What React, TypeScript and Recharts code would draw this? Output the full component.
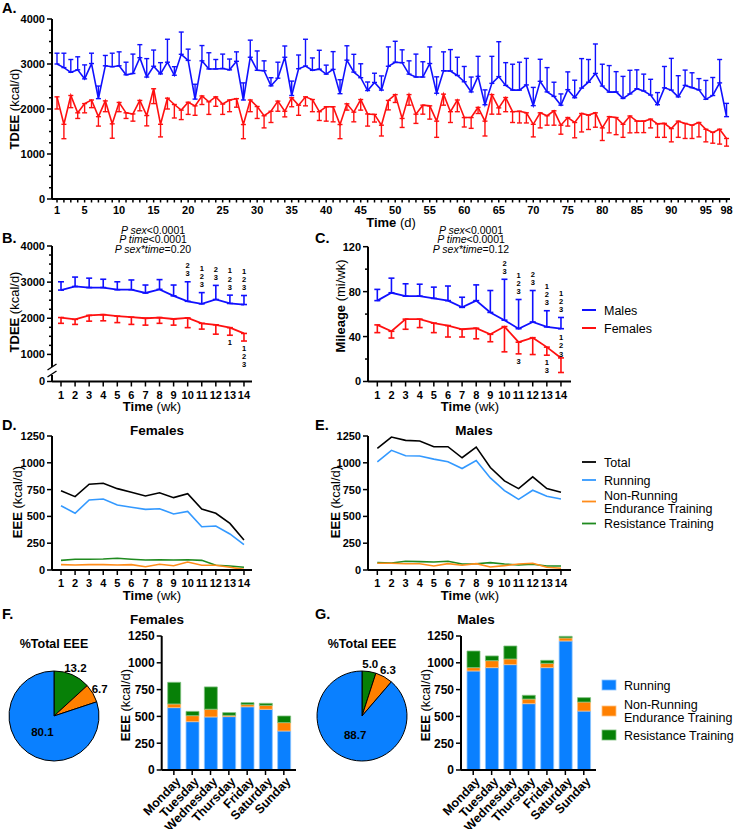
import React from 'react';
import { LineChart, Line, XAxis, YAxis, ErrorBar, LabelList, BarChart, Bar, PieChart, Pie, Cell } from 'recharts';

const FONT = '"Liberation Sans", Arial, Helvetica, sans-serif';
const W = 739;
const H = 829;

const BLUE = '#1010ff';
const RED = '#ff1010';
const RUN = '#3399ff';
const NONRUN = '#ff8c1a';
const RESIST = '#1f8a1f';
const BAR_BLUE = '#0a80ff';
const BAR_ORANGE = '#ff8000';
const BAR_GREEN = '#078007';

// ---- A: daily TDEE ----
const days = Array.from({ length: 98 }, (_, i) => i + 1);
const dayLabels = [1, 5, 10, 15, 20, 25, 30, 35, 40, 45, 50, 55, 60, 65, 70, 75, 80, 85, 90, 95, 98];
const tdeeMalesDaily = [
  3000, 2920, 2815, 2870, 2670, 3010, 2230, 2960, 2940, 2960,
  2760, 2790, 3140, 2710, 2950, 2780, 3040, 2750, 3215, 3080,
  2220, 3070, 2890, 2890, 2900, 2870, 3060, 2200, 3150, 2860,
  2850, 2515, 2685, 3150, 2300, 2895, 2955, 2860, 2885, 2775,
  2880, 2340, 3085, 2820, 2695, 2410, 2590, 2420, 2950, 3040,
  3030, 2775, 2710, 2710, 3010, 2350, 2850, 2845, 2745, 2605,
  2380, 2725, 2095, 2570, 2720, 2525, 2420, 2420, 2535, 2075,
  2615, 2380, 2280, 2085, 2430, 2250, 2465, 2595, 2790, 2510,
  2375, 2380, 2235, 2335, 2450, 2400, 2310, 2095, 2470, 2420,
  2270, 2525, 2475, 2425, 2215, 2300, 2580, 1830,
];
const tdeeMalesDailySd = [
  240, 320, 285, 290, 310, 230, 280, 230, 300, 310,
  280, 430, 290, 410, 360, 250, 510, 190, 495, 250,
  330, 340, 360, 210, 320, 240, 210, 380, 380, 430,
  220, 180, 355, 250, 320, 305, 595, 275, 420, 200,
  395, 310, 320, 395, 310, 190, 205, 315, 430, 465,
  285, 295, 510, 340, 370, 365, 420, 475, 405, 340,
  330, 445, 330, 600, 775, 505, 575, 620, 590, 405,
  490, 540, 315, 250, 395, 390, 655, 505, 655, 485,
  590, 450, 490, 525, 420, 375, 350, 270, 475, 705,
  470, 340, 330, 250, 420, 400, 520, 295,
];
const tdeeFemalesDaily = [
  2270, 1660, 2300, 1915, 2120, 2200, 1830, 2180, 1670, 2145,
  1915, 1890, 2190, 1855, 2450, 1660, 2240, 2100, 1975, 2150,
  2070, 2290, 2160, 2270, 2110, 2200, 2230, 1655, 2200, 2055,
  1850, 1950, 2175, 1950, 2250, 2085, 2270, 2210, 1940, 2050,
  2050, 1655, 2115, 1930, 2210, 1890, 1880, 1640, 2190, 2320,
  1790, 2320, 1885, 2085, 2070, 1730, 2330, 1940, 2200, 1810,
  1810, 2035, 1730, 2320, 2025, 2255, 1940, 1950, 1915, 1660,
  1915, 1850, 1960, 1640, 1810, 1700, 1900, 1865, 1915, 1580,
  1830, 1810, 1660, 1845, 1730, 1730, 1775, 1670, 1680, 1565,
  1730, 1680, 1640, 1700, 1550, 1480, 1550, 1345,
];
const tdeeFemalesDailySd = [
  270, 320, 270, 125, 205, 170, 210, 240, 320, 205,
  125, 160, 230, 230, 330, 280, 240, 300, 210, 270,
  210, 190, 280, 210, 230, 260, 190, 315, 260, 265,
  270, 250, 225, 125, 200, 225, 200, 270, 195, 320,
  335, 315, 140, 215, 235, 270, 170, 240, 210, 175,
  200, 235, 205, 200, 295, 360, 245, 240, 260, 210,
  240, 135, 330, 435, 140, 315, 240, 260, 225, 280,
  335, 210, 320, 200, 190, 340, 410, 320, 320, 280,
  360, 380, 290, 375, 255, 255, 195, 300, 310, 295,
  360, 335, 295, 320, 280, 240, 330, 170,
];
const tdeeDailyTicks = [0, 250, 500, 750, 1000, 1250, 1500, 1750, 2000, 2250, 2500, 2750, 3000, 3250, 3500, 3750, 4000];

// ---- B / C: weekly ----
const weeks = [1, 2, 3, 4, 5, 6, 7, 8, 9, 10, 11, 12, 13, 14];
const tdeeMalesWk = [2780, 2880, 2850, 2850, 2790, 2790, 2700, 2800, 2620, 2470, 2400, 2520, 2410, 2380];
const tdeeMalesWkSd = [230, 260, 260, 230, 220, 270, 220, 270, 300, 540, 310, 390, 230, 250];
const tdeeFemalesWk = [2020, 1970, 2080, 2100, 2060, 2030, 2000, 2020, 1980, 2010, 1860, 1820, 1740, 1580];
const tdeeFemalesWkSd = [160, 140, 160, 170, 180, 200, 190, 160, 170, 270, 160, 260, 210, 210];
const tdeeMalesSig = ['', '', '', '', '', '', '', '', '', '23', '123', '23', '123', '123'];
const tdeeFemalesSig = ['', '', '', '', '', '', '', '', '', '', '', '', '1', '123'];
const tdeeWkTicks = [250, 1000, 1250, 1500, 1750, 2000, 2250, 2500, 2750, 3000, 3250, 3500, 3750, 4000];

const mileMales = [72, 79, 76, 76, 74, 72, 66, 72, 61.5, 54.6, 47, 53, 48.6, 47];
const mileMalesSd = [10, 13, 11, 10.6, 10, 13, 9, 14, 19.5, 36.4, 26, 28, 14.4, 10];
const mileFemales = [50.4, 44.7, 55.5, 55.5, 52, 49.8, 46.5, 47.4, 42, 48.9, 35, 39, 30.6, 21];
const mileFemalesSd = [6.9, 6, 9, 7.5, 8.5, 10.2, 6.9, 9.4, 6.6, 22.5, 10.4, 15, 7.2, 13];
const mileMalesSig = ['', '', '', '', '', '', '', '', '', '23', '123', '23', '123', '123'];
const mileFemalesSig = ['', '', '', '', '', '', '', '', '', '', '3', '', '13', ''];
const mileFemalesSigAbove = ['', '', '', '', '', '', '', '', '', '', '', '', '', '123'];
const mileTicks = [0, 20, 40, 60, 80, 100, 120];

// ---- D / E: weekly EEE ----
const eeeTicks = [0, 250, 500, 750, 1000, 1250];
const femTotal = [740, 684, 800, 809, 759, 725, 690, 721, 675, 712, 569, 529, 435, 280];
const femRunning = [600, 529, 653, 662, 606, 585, 566, 572, 522, 547, 404, 410, 336, 236];
const femNonRunning = [50, 47, 50, 50, 47, 50, 31, 53, 40, 75, 44, 44, 25, 6];
const femResistance = [90, 100, 100, 103, 109, 100, 93, 96, 93, 96, 90, 44, 37, 25];
const malTotal = [1134, 1240, 1209, 1203, 1150, 1150, 1047, 1147, 956, 831, 759, 869, 759, 725];
const malRunning = [1009, 1116, 1066, 1063, 1034, 1009, 947, 1022, 859, 741, 659, 744, 688, 663];
const malNonRunning = [63, 63, 59, 59, 37, 59, 44, 59, 28, 41, 56, 63, 25, 16];
const malResistance = [69, 66, 81, 78, 75, 81, 56, 59, 69, 56, 47, 53, 37, 37];

// ---- F / G: day of week ----
const weekdays = ['Monday', 'Tuesday', 'Wednesday', 'Thursday', 'Friday', 'Saturday', 'Sunday'];
const femRunDay = [582, 451, 495, 498, 590, 566, 364];
const femNonRunDay = [34, 56, 72, 12, 20, 37, 78];
const femResistDay = [202, 40, 208, 25, 18, 19, 62];
const malRunDay = [924, 955, 983, 619, 955, 1204, 550];
const malNonRunDay = [31, 65, 53, 43, 40, 28, 84];
const malResistDay = [155, 44, 121, 35, 28, 15, 41];

const pieNames = ['Resistance Training', 'Non-Running Endurance Training', 'Running'];
const pieColors = [BAR_GREEN, BAR_ORANGE, BAR_BLUE];
const femPie = [13.2, 6.7, 80.1];
const malPie = [5.0, 6.3, 88.7];

// ---- tables ----
const dailyData = days.map((d, i) => ({
  day: d,
  males: tdeeMalesDaily[i],
  malesErr: [0, tdeeMalesDailySd[i]],
  females: tdeeFemalesDaily[i],
  femalesErr: [tdeeFemalesDailySd[i], 0],
}));

const weeklyRows = (m: number[], msd: number[], f: number[], fsd: number[], ms: string[], fs: string[], fa?: string[]) =>
  weeks.map((w, i) => ({
    week: w,
    males: m[i],
    malesErr: [0, msd[i]],
    malesTop: m[i] + msd[i],
    malesSig: ms[i],
    females: f[i],
    femalesErr: [fsd[i], 0],
    femalesBottom: f[i] - fsd[i],
    femalesSig: fs[i],
    femalesAbove: fa ? fa[i] : '',
  }));

const tdeeWeekly = weeklyRows(tdeeMalesWk, tdeeMalesWkSd, tdeeFemalesWk, tdeeFemalesWkSd, tdeeMalesSig, tdeeFemalesSig);
const mileWeekly = weeklyRows(mileMales, mileMalesSd, mileFemales, mileFemalesSd, mileMalesSig, mileFemalesSig, mileFemalesSigAbove);

const eeeRows = (t: number[], r: number[], n: number[], s: number[]) =>
  weeks.map((w, i) => ({ week: w, total: t[i], running: r[i], nonRunning: n[i], resistance: s[i] }));
const femEee = eeeRows(femTotal, femRunning, femNonRunning, femResistance);
const malEee = eeeRows(malTotal, malRunning, malNonRunning, malResistance);

const dayRows = (r: number[], n: number[], s: number[]) =>
  weekdays.map((d, i) => ({ day: d, running: r[i], nonRunning: n[i], resistance: s[i] }));
const femDays = dayRows(femRunDay, femNonRunDay, femResistDay);
const malDays = dayRows(malRunDay, malNonRunDay, malResistDay);

const pieRows = (v: number[]) => pieNames.map((name, i) => ({ name, value: v[i] }));

// ---- helpers ----
const axisLine = { stroke: '#000', strokeWidth: 2 };

const yTick = (fmt: (v: number) => string, isMajor: (v: number) => boolean, fontSize = 11) => (p: any) => {
  const v = p.payload.value;
  const len = isMajor(v) ? 5 : 3;
  const lbl = fmt(v);
  return (
    <g>
      <line x1={p.x - len} y1={p.y} x2={p.x} y2={p.y} stroke="#000" strokeWidth={1.5} />
      {lbl !== '' && (
        <text x={p.x - 7} y={p.y} dy="0.36em" textAnchor="end" fontSize={fontSize} fontWeight="bold" fontFamily={FONT} fill="#000">
          {lbl}
        </text>
      )}
    </g>
  );
};

const xTick = (fmt: (v: number) => string, len: number, base: number) => (p: any) => {
  const lbl = fmt(p.payload.value);
  return (
    <g>
      <line x1={p.x} y1={p.y} x2={p.x} y2={p.y + len} stroke="#000" strokeWidth={1.5} />
      {lbl !== '' && (
        <text x={p.x} y={p.y + base} textAnchor="middle" fontSize={11} fontWeight="bold" fontFamily={FONT} fill="#000">
          {lbl}
        </text>
      )}
    </g>
  );
};

const dayTick = (p: any) => {
  const x = p.x + 3;
  const y = p.y + 8;
  return (
    <g>
      <line x1={p.x} y1={p.y} x2={p.x} y2={p.y + 5} stroke="#000" strokeWidth={1.5} />
      <text x={x} y={y} dy="0.5em" textAnchor="end" transform={`rotate(-46, ${x}, ${y})`} fontSize={12.5} fontWeight="bold" fontFamily={FONT} fill="#000">
        {p.payload.value}
      </text>
    </g>
  );
};

const sigText = (dir: 'up' | 'down', gap: number) => (p: any) => {
  const val = p.value;
  if (!val) return null;
  const x = p.x ?? p.viewBox?.x;
  const y = p.y ?? p.viewBox?.y;
  const chars = String(val).split('');
  return (
    <g>
      {chars.map((c, i) => {
        const yy = dir === 'up' ? y - gap - (chars.length - 1 - i) * 8.3 : y + gap + i * 8.3;
        return (
          <text key={i} x={x} y={yy} dy="0.36em" textAnchor="middle" fontSize={7.5} fontWeight="bold" fontFamily={FONT} fill="#000">
            {c}
          </text>
        );
      })}
    </g>
  );
};

const pieLabel = (p: any) => {
  const RAD = Math.PI / 180;
  const inside = p.index === 2;
  const r = inside ? p.outerRadius * 0.44 : p.outerRadius + 8;
  const x = p.cx + r * Math.cos(-p.midAngle * RAD);
  const y = p.cy + r * Math.sin(-p.midAngle * RAD);
  return (
    <text x={x} y={y} dy="0.36em" textAnchor="middle" fontSize={11.5} fontWeight="bold" fontFamily={FONT} fill="#000">
      {Number(p.value).toFixed(1)}
    </text>
  );
};

const Layer = ({ children }: { children: React.ReactNode }) => (
  <div style={{ position: 'absolute', left: 0, top: 0, width: W, height: H }}>{children}</div>
);

// axes get 1px of room so that Recharts draws them; the plot edge stays at left / bottom
const plotMargin = (left: number, top: number, right: number, bottom: number) => ({
  left: left - 1,
  top,
  right: W - right,
  bottom: H - bottom - 1,
});

function WeeklyPanel({ data, margin, yDomain, yTicks, yFmt, yMajor, xDomain, above }: any) {
  return (
    <LineChart width={W} height={H} data={data} margin={margin}>
      <XAxis dataKey="week" type="number" domain={xDomain} ticks={weeks} interval={0} tickSize={0} tickMargin={0} tickLine={false} axisLine={axisLine} height={1} tick={xTick((v) => String(v), 5, 17)} />
      <YAxis type="number" domain={yDomain} ticks={yTicks} interval={0} tickSize={0} tickMargin={0} tickLine={false} axisLine={axisLine} width={1} tick={yTick(yFmt, yMajor)} />
      <Line dataKey="males" stroke={BLUE} strokeWidth={1.8} dot={false} isAnimationActive={false}>
        <ErrorBar dataKey="malesErr" direction="y" width={3} stroke={BLUE} strokeWidth={1.6} isAnimationActive={false} />
      </Line>
      <Line dataKey="females" stroke={RED} strokeWidth={1.8} dot={false} isAnimationActive={false}>
        <ErrorBar dataKey="femalesErr" direction="y" width={3} stroke={RED} strokeWidth={1.6} isAnimationActive={false} />
      </Line>
      <Line dataKey="malesTop" stroke="none" dot={false} activeDot={false} isAnimationActive={false}>
        <LabelList dataKey="malesSig" content={sigText('up', 8)} />
      </Line>
      <Line dataKey="femalesBottom" stroke="none" dot={false} activeDot={false} isAnimationActive={false}>
        <LabelList dataKey="femalesSig" content={sigText('down', 7)} />
      </Line>
      {above && (
        <Line dataKey="females" stroke="none" dot={false} activeDot={false} isAnimationActive={false}>
          <LabelList dataKey="femalesAbove" content={sigText('up', 4)} />
        </Line>
      )}
    </LineChart>
  );
}

function EeePanel({ data, margin, xDomain }: any) {
  return (
    <LineChart width={W} height={H} data={data} margin={margin}>
      <XAxis dataKey="week" type="number" domain={xDomain} ticks={weeks} interval={0} tickSize={0} tickMargin={0} tickLine={false} axisLine={axisLine} height={1} tick={xTick((v) => String(v), 5, 17)} />
      <YAxis type="number" domain={[0, 1250]} ticks={eeeTicks} interval={0} tickSize={0} tickMargin={0} tickLine={false} axisLine={axisLine} width={1} tick={yTick((v) => String(v), () => true)} />
      <Line dataKey="total" stroke="#000" strokeWidth={1.6} dot={false} isAnimationActive={false} />
      <Line dataKey="running" stroke={RUN} strokeWidth={1.6} dot={false} isAnimationActive={false} />
      <Line dataKey="resistance" stroke={RESIST} strokeWidth={1.6} dot={false} isAnimationActive={false} />
      <Line dataKey="nonRunning" stroke={NONRUN} strokeWidth={1.6} dot={false} isAnimationActive={false} />
    </LineChart>
  );
}

function DayBars({ data, margin }: any) {
  return (
    <BarChart width={W} height={H} data={data} margin={margin} barSize={13}>
      <XAxis dataKey="day" type="category" padding={{ left: 3, right: 3 }} interval={0} tickSize={0} tickMargin={0} tickLine={false} axisLine={axisLine} height={1} tick={dayTick} />
      <YAxis type="number" domain={[0, 1250]} ticks={eeeTicks} interval={0} tickSize={0} tickMargin={0} tickLine={false} axisLine={axisLine} width={1} tick={yTick((v) => String(v), () => true, 12)} />
      <Bar dataKey="running" stackId="s" fill={BAR_BLUE} stroke="#8cc4ff" strokeWidth={0.8} isAnimationActive={false} />
      <Bar dataKey="nonRunning" stackId="s" fill={BAR_ORANGE} stroke="#ffc080" strokeWidth={0.8} isAnimationActive={false} />
      <Bar dataKey="resistance" stackId="s" fill={BAR_GREEN} stroke="#80c080" strokeWidth={0.8} isAnimationActive={false} />
    </BarChart>
  );
}

function PiePanel({ values, cx }: { values: number[]; cx: number }) {
  return (
    <PieChart width={W} height={H} margin={{ top: 0, left: 0, right: 0, bottom: 0 }}>
      <Pie data={pieRows(values)} dataKey="value" nameKey="name" cx={cx} cy={716} outerRadius={45} startAngle={90} endAngle={-270} stroke="#000" strokeWidth={1} label={pieLabel} labelLine={false} isAnimationActive={false}>
        {values.map((_, i) => (
          <Cell key={i} fill={pieColors[i]} />
        ))}
      </Pie>
    </PieChart>
  );
}

const T = (props: any) => <text fontFamily={FONT} fill="#000" {...props} />;

function Title({ x, y, bold, normal, rotate, size = 13 }: any) {
  return (
    <T x={x} y={y} textAnchor="middle" fontSize={size} transform={rotate ? `rotate(-90, ${x}, ${y})` : undefined}>
      <tspan fontWeight="bold">{bold}</tspan>
      {normal && <tspan> {normal}</tspan>}
    </T>
  );
}

function Stats({ cx, last }: { cx: number; last: string }) {
  const rows: [string, string][] = [
    ['P sex', '<0.0001'],
    ['P time', '<0.0001'],
    ['P sex*time', last],
  ];
  return (
    <g>
      {rows.map(([a, b], i) => (
        <T key={i} x={cx} y={233.5 + i * 9.9} textAnchor="middle" fontSize={10.5}>
          <tspan fontStyle="italic">{a}</tspan>
          <tspan>{b}</tspan>
        </T>
      ))}
    </g>
  );
}

export default function App() {
  return (
    <div style={{ position: 'absolute', left: 0, top: 0, width: W, height: H, background: '#fff', overflow: 'hidden' }}>
      <Layer>
        <LineChart width={W} height={H} data={dailyData} margin={plotMargin(52, 19, 730, 199)}>
          <XAxis dataKey="day" type="number" domain={[0.275, 98.5]} ticks={days} interval={0} tickSize={0} tickMargin={0} tickLine={false} axisLine={axisLine} height={1} tick={xTick((v) => (dayLabels.includes(v) ? String(v) : ''), 3.5, 14.5)} />
          <YAxis type="number" domain={[0, 4000]} ticks={tdeeDailyTicks} interval={0} tickSize={0} tickMargin={0} tickLine={false} axisLine={axisLine} width={1} tick={yTick((v) => (v % 1000 === 0 ? String(v) : ''), (v) => v % 1000 === 0)} />
          <Line dataKey="males" stroke={BLUE} strokeWidth={1.6} dot={false} isAnimationActive={false}>
            <ErrorBar dataKey="malesErr" direction="y" width={2.5} stroke={BLUE} strokeWidth={1.4} isAnimationActive={false} />
          </Line>
          <Line dataKey="females" stroke={RED} strokeWidth={1.6} dot={false} isAnimationActive={false}>
            <ErrorBar dataKey="femalesErr" direction="y" width={2.5} stroke={RED} strokeWidth={1.4} isAnimationActive={false} />
          </Line>
        </LineChart>
      </Layer>
      <Layer>
        <WeeklyPanel
          data={tdeeWeekly}
          margin={plotMargin(52, 246, 252, 381.5)}
          yDomain={[250, 4000]}
          yTicks={tdeeWkTicks}
          yFmt={(v: number) => (v === 250 ? '0' : v % 1000 === 0 ? String(v) : '')}
          yMajor={(v: number) => v === 250 || v % 1000 === 0}
          xDomain={[0.36, 14.57]}
        />
      </Layer>
      <Layer>
        <WeeklyPanel
          data={mileWeekly}
          margin={plotMargin(368, 246.7, 571, 381.5)}
          yDomain={[0, 120]}
          yTicks={mileTicks}
          yFmt={(v: number) => (v % 40 === 0 ? String(v) : '')}
          yMajor={(v: number) => v % 40 === 0}
          xDomain={[0.34, 14.71]}
          above
        />
      </Layer>
      <Layer>
        <EeePanel data={femEee} margin={plotMargin(52, 436, 252, 570)} xDomain={[0.36, 14.57]} />
      </Layer>
      <Layer>
        <EeePanel data={malEee} margin={plotMargin(368, 436, 571, 570)} xDomain={[0.34, 14.71]} />
      </Layer>
      <Layer>
        <DayBars data={femDays} margin={plotMargin(161.7, 636, 296, 770)} />
      </Layer>
      <Layer>
        <DayBars data={malDays} margin={plotMargin(461, 636, 596, 770)} />
      </Layer>
      <Layer>
        <PiePanel values={femPie} cx={54} />
      </Layer>
      <Layer>
        <PiePanel values={malPie} cx={362} />
      </Layer>

      <svg width={W} height={H} style={{ position: 'absolute', left: 0, top: 0 }}>
        {/* panel letters */}
        {[
          ['A.', 2, 12.5],
          ['B.', 2, 243],
          ['C.', 315, 243],
          ['D.', 2, 430],
          ['E.', 315, 430],
          ['F.', 2, 619],
          ['G.', 315, 619],
        ].map(([s, x, y]) => (
          <T key={s as string} x={x} y={y} fontSize={14.5} fontWeight="bold">
            {s}
          </T>
        ))}

        {/* A */}
        <Title x={18.5} y={109} bold="TDEE" normal="(kcal/d)" rotate />
        <Title x={391} y={227} bold="Time" normal="(d)" />

        {/* B */}
        <Title x={18.5} y={312} bold="TDEE" normal="(kcal/d)" rotate />
        <Title x={152} y={411} bold="Time" normal="(wk)" />
        <Stats cx={153} last="=0.20" />
        <rect x={48} y={367} width={8} height={8} fill="#fff" />
        <line x1={47.5} y1={370} x2={56.5} y2={364} stroke="#000" strokeWidth={1.3} />
        <line x1={47.5} y1={377} x2={56.5} y2={371} stroke="#000" strokeWidth={1.3} />

        {/* C */}
        <Title x={345} y={306} bold="Mileage" normal="(mi/wk)" rotate />
        <Title x={470} y={411} bold="Time" normal="(wk)" />
        <Stats cx={471} last="=0.12" />
        <line x1={582} y1={310} x2={596} y2={310} stroke={BLUE} strokeWidth={2} />
        <T x={604} y={310} dy="0.36em" fontSize={12.5}>Males</T>
        <line x1={582} y1={328} x2={596} y2={328} stroke={RED} strokeWidth={2} />
        <T x={604} y={328} dy="0.36em" fontSize={12.5}>Females</T>

        {/* D / E */}
        <Title x={21.5} y={502} bold="EEE" normal="(kcal/d)" rotate />
        <Title x={152} y={600} bold="Time" normal="(wk)" />
        <T x={157} y={435} textAnchor="middle" fontSize={13.5} fontWeight="bold">Females</T>
        <Title x={339.5} y={502} bold="EEE" normal="(kcal/d)" rotate />
        <Title x={470} y={600} bold="Time" normal="(wk)" />
        <T x={474} y={435} textAnchor="middle" fontSize={13.5} fontWeight="bold">Males</T>
        <line x1={582} y1={462} x2={596} y2={462} stroke="#000" strokeWidth={1.8} />
        <T x={604} y={462} dy="0.36em" fontSize={12.5}>Total</T>
        <line x1={582} y1={480} x2={596} y2={480} stroke={RUN} strokeWidth={1.8} />
        <T x={604} y={480} dy="0.36em" fontSize={12.5}>Running</T>
        <line x1={582} y1={501.5} x2={596} y2={501.5} stroke={NONRUN} strokeWidth={1.8} />
        <T x={604} y={495} dy="0.36em" fontSize={12.5}>Non-Running</T>
        <T x={604} y={508.5} dy="0.36em" fontSize={12.5}>Endurance Training</T>
        <line x1={582} y1={523.5} x2={596} y2={523.5} stroke={RESIST} strokeWidth={1.8} />
        <T x={604} y={523.5} dy="0.36em" fontSize={12.5}>Resistance Training</T>

        {/* F / G */}
        <T x={54} y={648} textAnchor="middle" fontSize={12.5} fontWeight="bold">%Total EEE</T>
        <T x={362} y={648} textAnchor="middle" fontSize={12.5} fontWeight="bold">%Total EEE</T>
        <T x={157} y={624} textAnchor="middle" fontSize={13.5} fontWeight="bold">Females</T>
        <T x={476} y={624} textAnchor="middle" fontSize={13.5} fontWeight="bold">Males</T>
        <Title x={129.5} y={705} bold="EEE" normal="(kcal/d)" rotate />
        <Title x={429.5} y={705} bold="EEE" normal="(kcal/d)" rotate />
        <rect x={602} y={680} width={14} height={10} fill={BAR_BLUE} stroke="#8cc4ff" strokeWidth={0.8} />
        <T x={624} y={685.5} dy="0.36em" fontSize={12.5}>Running</T>
        <rect x={602} y={706} width={14} height={10} fill={BAR_ORANGE} stroke="#ffc080" strokeWidth={0.8} />
        <T x={624} y={704} dy="0.36em" fontSize={12.5}>Non-Running</T>
        <T x={624} y={717} dy="0.36em" fontSize={12.5}>Endurance Training</T>
        <rect x={602} y={730} width={14} height={10} fill={BAR_GREEN} stroke="#80c080" strokeWidth={0.8} />
        <T x={624} y={735} dy="0.36em" fontSize={12.5}>Resistance Training</T>
      </svg>
    </div>
  );
}
